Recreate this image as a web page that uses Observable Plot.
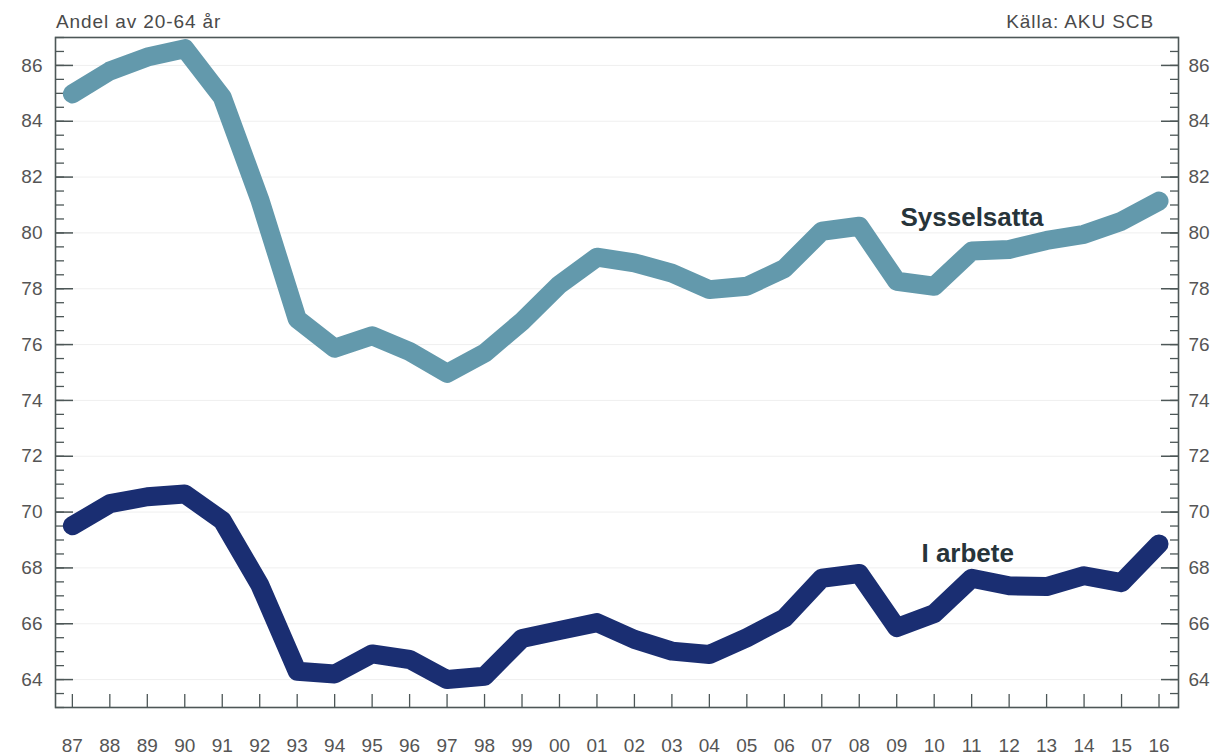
<!DOCTYPE html>
<html><head><meta charset="utf-8">
<script src="https://cdn.jsdelivr.net/npm/d3@7"></script>
<script src="https://cdn.jsdelivr.net/npm/@observablehq/plot@0.6"></script>
<style>
body{margin:0;background:#fff;font-family:"Liberation Sans",Arial,sans-serif;}
#head{position:relative;height:30px;width:1214px;}
#sub,#src{position:absolute;top:12px;font-size:19px;line-height:19px;color:#4a4a4a;letter-spacing:0.9px;white-space:nowrap}
#sub{left:56px}
#src{right:60px}
#chart svg{display:block}
</style></head>
<body>
<div id="head"><span id="sub">Andel av 20-64 år</span><span id="src">Källa: AKU SCB</span></div>
<div id="chart"></div>
<script>
const years = d3.range(1987, 2017);
const sysselsatta = [84.98,85.8,86.3,86.6,84.86,81.2,76.92,75.87,76.32,75.75,74.97,75.69,76.83,78.15,79.13,78.93,78.56,77.97,78.09,78.72,80.06,80.24,78.27,78.09,79.35,79.41,79.73,79.95,80.42,81.14];
const iArbete = [69.51,70.3,70.55,70.65,69.7,67.4,64.3,64.2,64.92,64.72,64.0,64.12,65.47,65.76,66.04,65.44,65.02,64.9,65.5,66.2,67.63,67.8,65.86,66.36,67.63,67.36,67.33,67.72,67.47,68.86];
const seriesNames = ["Sysselsatta", "I arbete"];
const majorTicks = d3.range(64, 87, 2);
const minorTicks = d3.range(63, 87.01, 0.5);

const rows = [];
years.forEach((yr, i) => {
  rows.push({year: yr, value: sysselsatta[i], series: seriesNames[0]});
  rows.push({year: yr, value: iArbete[i], series: seriesNames[1]});
});
const labels = [
  {year: 2009.1, value: 80.23, text: seriesNames[0]},
  {year: 2009.66, value: 68.21, text: seriesNames[1]}
];
const yearFmt = d => String(d % 100).padStart(2, "0");
const axisColor = "#4d5757";

const chart = Plot.plot({
  width: 1214,
  height: 726,
  marginTop: 7,
  marginBottom: 49,
  marginLeft: 55,
  marginRight: 36,
  style: {fontFamily: "Liberation Sans, Arial, sans-serif", background: "#fff"},
  x: {domain: [1986.55, 2016.52], label: null},
  y: {domain: [63, 87], label: null},
  color: {domain: seriesNames, range: ["#6399ac", "#1a2e72"]},
  marks: [
    Plot.gridY(majorTicks, {stroke: "#efefef", strokeOpacity: 1, strokeWidth: 1}),
    Plot.axisY({anchor: "left", ticks: minorTicks, tickSize: -9, tickFormat: () => "", color: axisColor, strokeWidth: 1.3}),
    Plot.axisY({anchor: "left", ticks: majorTicks, tickSize: -18, tickFormat: () => "", color: axisColor, strokeWidth: 1.5}),
    Plot.axisY({anchor: "left", ticks: majorTicks, tickSize: 0, tickPadding: 13, fontSize: 19, color: "#555", style: {letterSpacing: "1px"}}),
    Plot.axisY({anchor: "right", ticks: minorTicks, tickSize: -9, tickFormat: () => "", color: axisColor, strokeWidth: 1.3}),
    Plot.axisY({anchor: "right", ticks: majorTicks, tickSize: -18, tickFormat: () => "", color: axisColor, strokeWidth: 1.5}),
    Plot.axisY({anchor: "right", ticks: majorTicks, tickSize: 0, tickPadding: 10, fontSize: 19, color: "#555", style: {letterSpacing: "1px"}}),
    Plot.axisX({anchor: "bottom", ticks: years, tickSize: -13, tickFormat: () => "", color: axisColor, strokeWidth: 1.3}),
    Plot.axisX({anchor: "bottom", ticks: years, tickSize: 0, tickPadding: 31, tickFormat: yearFmt, fontSize: 19, color: "#555", style: {letterSpacing: "1px"}}),
    Plot.frame({stroke: axisColor, strokeWidth: 1.6}),
    Plot.line(rows, {x: "year", y: "value", z: "series", stroke: "series", strokeWidth: 19, strokeLinejoin: "round", strokeLinecap: "round"}),
    Plot.text(labels, {x: "year", y: "value", text: "text", textAnchor: "start", lineAnchor: "bottom", fontSize: 26, fontWeight: "bold", fill: "#27343a"})
  ]
});
document.getElementById("chart").appendChild(chart);
</script>
</body></html>
